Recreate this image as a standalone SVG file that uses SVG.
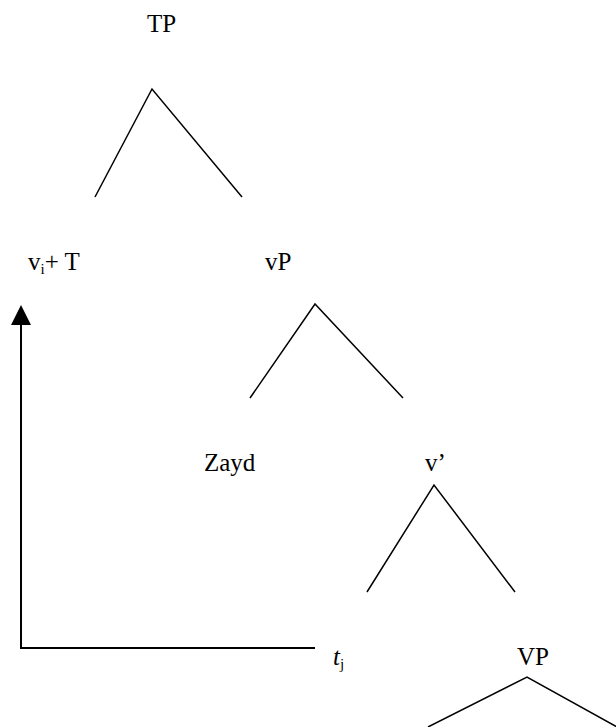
<svg xmlns="http://www.w3.org/2000/svg" width="616" height="727" viewBox="0 0 616 727">
<style>
.lbl{font-family:"Liberation Serif","Times New Roman",serif;font-size:25px;fill:#000}
.br{fill:none;stroke:#000;stroke-width:1.5}
</style>
<rect width="616" height="727" fill="#fff"/>
<g id="TP"><text class="lbl" x="147" y="32">TP</text><polyline class="br" points="95,197 152,89 242,197"/></g>
<g id="viT"><text class="lbl" x="28" y="270">v<tspan font-size="15" dy="4">i</tspan><tspan dy="-4">+ T</tspan></text></g>
<g id="vP"><text class="lbl" x="265" y="270">vP</text><polyline class="br" points="250,398 315,304 403,398"/></g>
<g id="Zayd"><text class="lbl" x="204" y="471">Zayd</text></g>
<g id="vbar"><text class="lbl" x="425" y="471">v’</text><polyline class="br" points="367,592 434,485 515,592"/></g>
<g id="tj"><text class="lbl" x="333" y="665"><tspan font-style="italic">t</tspan><tspan font-size="15" dy="4">j</tspan></text></g>
<g id="VP"><text class="lbl" x="517" y="665">VP</text><polyline class="br" points="428,727 527,677 626,732"/></g>
<g id="connectors">
<polyline fill="none" stroke="#000" stroke-width="2" points="315,648 21,648 21,325"/>
<polygon points="21,305 11,325 31,325" fill="#000"/>
</g>
</svg>
